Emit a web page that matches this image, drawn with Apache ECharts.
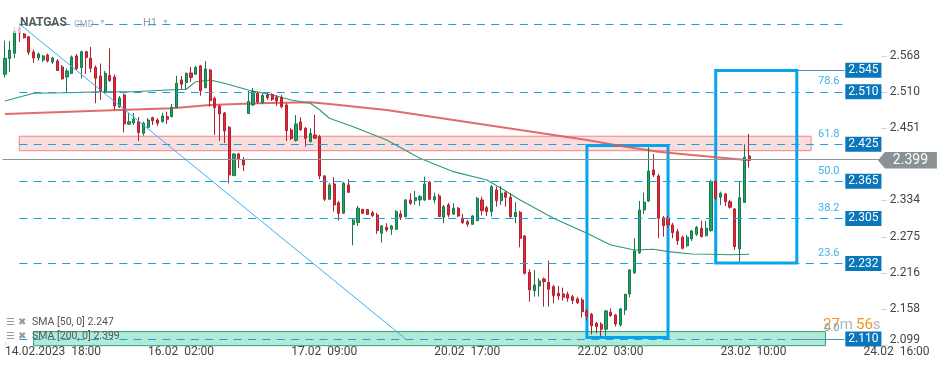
<!DOCTYPE html>
<html><head><meta charset="utf-8">
<script src="https://cdn.jsdelivr.net/npm/echarts@6/dist/echarts.min.js"></script>
<style>html,body{margin:0;padding:0;background:#fff}#c{width:949px;height:370px}</style>
</head><body><div id="c"></div>
<script>
// ---------- data (NATGAS, H1) ----------
const opens = [2.5383,2.5638,2.5723,2.6132,2.6035,2.5991,2.5744,2.5647,2.5614,2.5695,2.5582,2.5598,2.5501,2.5339,2.5396,2.5679,2.5493,2.5748,2.5642,2.5493,2.5355,2.5101,2.5363,2.5339,2.4854,2.5048,2.4574,2.4595,2.4616,2.4428,2.4525,2.4681,2.4643,2.4616,2.4697,2.4697,2.4846,2.5291,2.5250,2.5404,2.5383,2.5517,2.5166,2.5452,2.4994,2.4870,2.4757,2.4525,2.3742,2.4093,2.3996,2.4749,2.4886,2.5075,2.4923,2.5048,2.5056,2.5011,2.5011,2.4886,2.4481,2.4312,2.4611,2.4509,2.4295,2.4401,2.4373,2.3737,2.3360,2.3608,2.3305,2.3134,2.3592,2.2952,2.2982,2.3198,2.3195,2.3143,2.3106,2.2810,2.2907,2.2875,2.2875,2.3122,2.3079,2.3349,2.3338,2.3349,2.3349,2.3635,2.3349,2.3414,2.3069,2.3268,2.3122,2.3215,2.3053,2.2998,2.2956,2.3014,2.3349,2.3224,2.3160,2.3511,2.3338,2.3467,2.3393,2.3079,2.3150,2.2766,2.2179,2.1881,2.1957,2.2071,2.2017,2.1946,2.1839,2.1828,2.1823,2.1784,2.1747,2.1731,2.1553,2.1501,2.1354,2.1338,2.1257,2.1532,2.1488,2.1326,2.1569,2.1828,2.2172,2.2496,2.3187,2.3333,2.3834,2.3737,2.3062,2.3057,2.2944,2.2836,2.2745,2.2609,2.2718,2.2794,2.2891,2.2771,2.2852,2.3645,2.3393,2.3446,2.3321,2.3203,2.2556,2.3312,2.4061];
const closes = [2.5642,2.5776,2.6083,2.6051,2.5975,2.5739,2.5647,2.5711,2.5679,2.5598,2.5647,2.5444,2.5307,2.5436,2.5663,2.5477,2.5748,2.5655,2.5480,2.5318,2.5113,2.5399,2.5282,2.4870,2.4999,2.4579,2.4616,2.4660,2.4438,2.4590,2.4643,2.4632,2.4590,2.4708,2.4655,2.4849,2.5237,2.5221,2.5399,2.5331,2.5496,2.5117,2.5469,2.4956,2.4842,2.4740,2.4465,2.3753,2.4093,2.4020,2.3915,2.4943,2.5104,2.4935,2.5040,2.5004,2.4978,2.4951,2.4858,2.4470,2.4344,2.4579,2.4486,2.4347,2.4425,2.4347,2.3737,2.3360,2.3592,2.3268,2.3134,2.3619,2.3473,2.3025,2.3215,2.3134,2.3114,2.3095,2.2852,2.2928,2.2863,2.2928,2.3160,2.3069,2.3349,2.3295,2.3386,2.3402,2.3608,2.3360,2.3402,2.3079,2.3240,2.3106,2.3215,2.3090,2.2982,2.2956,2.3090,2.3376,2.3176,2.3160,2.3564,2.3338,2.3457,2.3393,2.3079,2.3150,2.2729,2.2163,2.1893,2.1973,2.2038,2.2027,2.1904,2.1804,2.1795,2.1774,2.1758,2.1723,2.1687,2.1541,2.1472,2.1315,2.1299,2.1257,2.1553,2.1477,2.1342,2.1585,2.1823,2.2216,2.2524,2.3187,2.3312,2.3818,2.3753,2.3053,2.2933,2.2944,2.2820,2.2690,2.2567,2.2745,2.2847,2.2907,2.2755,2.2891,2.3645,2.3376,2.3457,2.3321,2.3231,2.2593,2.3386,2.4040,2.3990];
const highs = [2.5926,2.5922,2.6148,2.6200,2.6051,2.6003,2.5784,2.5736,2.5695,2.5719,2.5663,2.5630,2.5533,2.5477,2.5687,2.5711,2.5768,2.5760,2.5825,2.5525,2.5558,2.5436,2.5803,2.5380,2.5032,2.5072,2.4752,2.4757,2.4692,2.4616,2.4671,2.4697,2.4671,2.4761,2.4778,2.4902,2.5360,2.5355,2.5409,2.5501,2.5517,2.5533,2.5598,2.5469,2.5020,2.4897,2.4773,2.4546,2.4109,2.4109,2.4045,2.5113,2.5161,2.5096,2.5072,2.5096,2.5075,2.5048,2.5048,2.4914,2.4509,2.4724,2.4687,2.4530,2.4509,2.4724,2.4401,2.3753,2.3624,2.3716,2.3333,2.3645,2.3684,2.3050,2.3252,2.3203,2.3203,2.3171,2.3138,2.2944,2.2972,2.2944,2.3187,2.3176,2.3365,2.3457,2.3494,2.3430,2.3726,2.3656,2.3467,2.3446,2.3268,2.3300,2.3295,2.3235,2.3122,2.3025,2.3106,2.3397,2.3402,2.3252,2.3592,2.3564,2.3575,2.3499,2.3457,2.3312,2.3171,2.2782,2.2228,2.2216,2.2082,2.2095,2.2367,2.1973,2.1957,2.1930,2.1865,2.1812,2.1780,2.1768,2.1585,2.1520,2.1375,2.1370,2.1569,2.1596,2.1504,2.1601,2.1828,2.2228,2.2729,2.3333,2.3467,2.4202,2.4093,2.3770,2.3090,2.3090,2.2977,2.2880,2.2774,2.2783,2.2863,2.2928,2.3014,2.3009,2.3672,2.3672,2.3483,2.3462,2.3349,2.3219,2.3645,2.4250,2.4417];
const lows = [2.5331,2.5420,2.5647,2.5905,2.5962,2.5695,2.5566,2.5606,2.5582,2.5574,2.5549,2.5436,2.5299,2.5096,2.5388,2.5452,2.5315,2.5388,2.5412,2.4914,2.4967,2.5072,2.5258,2.4805,2.4838,2.4441,2.4562,2.4562,2.4304,2.4389,2.4509,2.4562,2.4546,2.4600,2.4579,2.4687,2.4833,2.5145,2.5129,2.5258,2.5371,2.5037,2.5156,2.4858,2.4401,2.4304,2.4271,2.3619,2.3737,2.3867,2.3818,2.4740,2.4870,2.4902,2.4902,2.4967,2.4951,2.4870,2.4829,2.4304,2.4320,2.4292,2.4465,2.4211,2.4276,2.4336,2.3684,2.3333,2.3349,2.3160,2.3014,2.3122,2.3462,2.2613,2.2928,2.3122,2.3106,2.3074,2.2799,2.2658,2.2836,2.2783,2.2863,2.3025,2.3066,2.3268,2.3268,2.3252,2.3333,2.3349,2.3295,2.3074,2.2972,2.3069,2.3106,2.3074,2.2960,2.2917,2.2944,2.3009,2.3098,2.3090,2.3079,2.3240,2.3268,2.3240,2.3058,2.2972,2.2583,2.2143,2.1703,2.1784,2.1784,2.1622,2.1622,2.1677,2.1731,2.1719,2.1703,2.1666,2.1666,2.1448,2.1407,2.1173,2.1192,2.1137,2.1148,2.1456,2.1299,2.1299,2.1488,2.1774,2.2151,2.2475,2.3122,2.3316,2.3721,2.2729,2.2755,2.2896,2.2729,2.2621,2.2548,2.2588,2.2685,2.2766,2.2742,2.2758,2.2836,2.3349,2.3268,2.3252,2.3211,2.2540,2.2350,2.3300,2.3871];

// [bar index, value]
const sma50 = [[0,2.4951],[6,2.5075],[13,2.5085],[20,2.5101],[27,2.5101],[34,2.5129],[38,2.5140],[40,2.5263],[43,2.5291],[46,2.5237],[51,2.5129],[56,2.5048],[60,2.4967],[64,2.4914],[66,2.4805],[68,2.4671],[73,2.4535],[80,2.4320],[87,2.4024],[94,2.3807],[101,2.3672],[104,2.3538],[108,2.3349],[115,2.3053],[122,2.2810],[127,2.2621],[132,2.2540],[136,2.2551],[139,2.2512],[144,2.2475],[148,2.2470],[152,2.2462],[156,2.2470]];
const sma200 = [[0,2.4740],[12,2.4773],[24,2.4805],[35,2.4833],[43,2.4886],[53,2.4914],[64,2.4930],[68,2.4902],[80,2.4805],[94,2.4643],[108,2.4481],[122,2.4320],[130,2.4211],[137,2.4130],[144,2.4077],[156,2.3990]];
const trendLine = [[3,2.620],[84,2.110]];

const xTickIndex = [0,30,60,90,120,150,180];
const xTickLabels = ['14.02.2023  18:00','16.02  02:00','17.02  09:00','20.02  17:00','22.02  03:00','23.02  10:00','24.02  16:00'];
const yTickValues = [2.099,2.158,2.216,2.275,2.334,2.451,2.510,2.568];

const fibLevels = [0.0,23.6,38.2,50.0,61.8,78.6,100.0];
const fibPrices = [2.110,2.232,2.305,2.365,2.425,2.510,2.620];
const tagPrices = [2.545,2.510,2.425,2.365,2.305,2.232,2.110];
const lastPrice = 2.399;
const resistanceZone = [2.4146,2.4380];
const supportZone = [2.099,2.1218];
const box1 = {from:122, to:139, low:2.1121, high:2.4231};
const box2 = {from:149, to:166, low:2.2329, high:2.5444};
const sma50Last = 2.247, sma200Last = 2.399;

// ---------- chart ----------
const slotCount = 184;
const categories = Array.from({length: slotCount}, (_, i) => String(i));
const candleData = opens.map((o, i) => [o, closes[i], lows[i], highs[i]]);
const isTick = i => xTickIndex.indexOf(i) >= 0;
const FIB_FROM = 3, FIB_TO = 176, TAG_LINE_TO = 176, LAST_IDX = 183;
const YMIN = 2.099, YMAX = 2.6585;
const fibColor = '#14a2e8';
const fibLine = (k) => [
  {coord: [FIB_FROM, fibPrices[k]], label: {show: fibLevels[k] !== 100, formatter: fibLevels[k].toFixed(1)}},
  {coord: [FIB_TO, fibPrices[k]]}];
const fibIdx = fibLevels.map((_, k) => k);

const chart = echarts.init(document.getElementById('c'), null, {renderer: 'canvas'});
const fibMarkLine = (idx) => ({silent: true, symbol: ['none', 'none'],
  lineStyle: {color: fibColor, type: [8, 6.3], width: 1},
  label: {show: true, position: 'insideEndTop', color: '#3fb0ea', fontSize: 11, fontFamily: 'Roboto'},
  data: idx.map(fibLine)});

const option = {
  animation: false,
  textStyle: {fontFamily: 'Roboto'},
  grid: {left: 2.6, top: 0, width: 877.7, height: 345.7},
  xAxis: {
    type: 'category', data: categories, boundaryGap: true,
    axisLine: {show: false},
    axisTick: {show: true, inside: true, length: 4, alignWithLabel: true, interval: i => isTick(i), lineStyle: {color: '#d9d9d9'}},
    axisLabel: {interval: i => isTick(i), formatter: (v, i) => xTickLabels[xTickIndex.indexOf(i)] || '',
      align: 'left', margin: 0, color: '#444', fontSize: 12, fontFamily: 'Roboto'},
    splitLine: {show: false}
  },
  yAxis: [
    {type: 'value', position: 'right', min: YMIN, max: YMAX, offset: 1.5,
      splitLine: {show: false}, axisLine: {show: false},
      axisTick: {show: true, customValues: yTickValues, length: 5, lineStyle: {color: '#cfcfcf'}},
      axisLabel: {customValues: yTickValues, margin: 8, color: '#444', fontSize: 12, fontFamily: 'Roboto',
        formatter: v => v.toFixed(3), verticalAlignMinLabel: 'bottom'}},
    {type: 'value', position: 'right', min: YMIN, max: YMAX, offset: -37,
      splitLine: {show: false}, axisLine: {show: false}, axisTick: {show: false},
      axisLabel: {customValues: tagPrices, margin: 2, color: '#fff', fontSize: 12, fontFamily: 'Roboto',
        backgroundColor: '#0a77bd', padding: [2, 3, 1, 3], formatter: v => v.toFixed(3)}}
  ],
  graphic: [
    {type: 'rect', left: 0, top: 14, shape: {width: 175, height: 19}, style: {fill: 'rgba(255,255,255,0.7)'}, z: 5},
    {type: 'text', left: 20, top: 17, z: 20, style: {text: 'NATGAS', fontSize: 12, fontWeight: 'bold', fill: '#5a5a5a', fontFamily: 'Roboto'}},
    {type: 'text', left: 74, top: 20, z: 20, style: {text: 'CMD', fontSize: 9, fill: '#aaaaaa', fontFamily: 'Roboto'}},
    {type: 'text', left: 99, top: 19, z: 20, style: {text: '▼', fontSize: 7, fill: '#bbbbbb'}},
    {type: 'text', left: 143, top: 18, z: 20, style: {text: 'H1', fontSize: 11, fill: '#9a9a9a', fontFamily: 'Roboto'}},
    {type: 'text', left: 162, top: 19, z: 20, style: {text: '▼', fontSize: 7, fill: '#bbbbbb'}},
    {type: 'text', left: 6, top: 317, z: 20, style: {text: '☰ ✖', fontSize: 10, fill: '#9a9a9a'}},
    {type: 'text', left: 6, top: 331, z: 20, style: {text: '☰ ✖', fontSize: 10, fill: '#9a9a9a'}},
    {type: 'text', left: 32, top: 317, z: 20, style: {text: 'SMA [50, 0] ' + sma50Last.toFixed(3), fontSize: 10.5, fill: '#555', fontFamily: 'Roboto'}},
    {type: 'text', left: 32, top: 331, z: 20, style: {text: 'SMA [200, 0] ' + sma200Last.toFixed(3), fontSize: 10.5, fill: '#555', fontFamily: 'Roboto'}},
    {type: 'text', left: 823, top: 318, z: 20, style: {
      text: '{o|27}{g|m} {o|56}{g|s}', fontFamily: 'Roboto',
      rich: {o: {fontSize: 15, fill: '#f7941d', fontFamily: 'Roboto'}, g: {fontSize: 15, fill: '#b5b5b5', fontFamily: 'Roboto'}}}}
  ],
  series: [
    {name: 'zones', type: 'line', data: [], z: 1,
      markArea: {silent: true, data: [
        [{coord: [3, resistanceZone[1]], itemStyle: {color: 'rgba(248,180,180,0.45)', borderColor: '#f08585', borderWidth: 1}},
         {coord: [169, resistanceZone[0]]}],
        [{coord: [6, supportZone[1]], itemStyle: {color: '#b3e9d6', borderColor: '#22a676', borderWidth: 1}},
         {coord: [172, supportZone[0]]}]
      ]}},
    {name: 'fib', type: 'line', data: [], z: 2, markLine: fibMarkLine(fibIdx.slice(0, 6))},
    {name: 'fibTop', type: 'line', data: [], z: 6, markLine: fibMarkLine(fibIdx.slice(6))},
    {name: 'NATGAS', type: 'candlestick', data: candleData, z: 4, barWidth: 2.6,
      itemStyle: {color: '#24a069', borderColor: '#17794b', color0: '#e22b3c', borderColor0: '#b5202e', borderWidth: 1}},
    {name: 'SMA200', type: 'line', data: sma200, z: 3, showSymbol: false, symbol: 'none',
      lineStyle: {color: '#e25a5c', width: 2, opacity: 0.9}},
    {name: 'SMA50', type: 'line', data: sma50, z: 3, showSymbol: false, symbol: 'none',
      lineStyle: {color: '#2f9a6c', width: 1.1}},
    {name: 'trend', type: 'line', data: trendLine, z: 7, showSymbol: false, symbol: 'none',
      lineStyle: {color: '#3cadee', width: 1}},
    {name: 'boxes', type: 'line', data: [], z: 8,
      markArea: {silent: true, itemStyle: {color: 'rgba(0,0,0,0)', borderColor: '#05a5ee', borderWidth: 3},
        data: [
          [{coord: [box1.from, box1.high]}, {coord: [box1.to, box1.low]}],
          [{coord: [box2.from, box2.high]}, {coord: [box2.to, box2.low]}]
        ]},
      markLine: {silent: true, symbol: ['none', 'none'], label: {show: false},
        lineStyle: {color: '#4d90c6', type: 'solid', width: 1},
        data: [
          [{coord: [box2.to, tagPrices[0]]}, {coord: [TAG_LINE_TO, tagPrices[0]]}],
          [{coord: [box2.to, tagPrices[6]]}, {coord: [TAG_LINE_TO, tagPrices[6]]}]
        ]}},
    {name: 'last', type: 'line', data: [], z: 9,
      markLine: {silent: true, symbol: ['none', 'none'], label: {show: false},
        lineStyle: {color: '#8d9496', type: 'solid', width: 1},
        data: [{yAxis: lastPrice}]},
      markPoint: {silent: true, data: [{coord: [LAST_IDX, lastPrice]}],
        symbol: 'path://M0,8 L7,0 L59,0 L59,16 L7,16 Z', symbolSize: [59, 16.5], symbolOffset: [29.5, 0],
        symbolKeepAspect: false,
        itemStyle: {color: '#8a9295'},
        label: {show: true, position: 'inside', offset: [3, 0], formatter: lastPrice.toFixed(3),
          color: '#fff', fontSize: 14, fontFamily: 'Roboto'}}}
  ]
};
chart.setOption(option);
</script>
</body></html>
